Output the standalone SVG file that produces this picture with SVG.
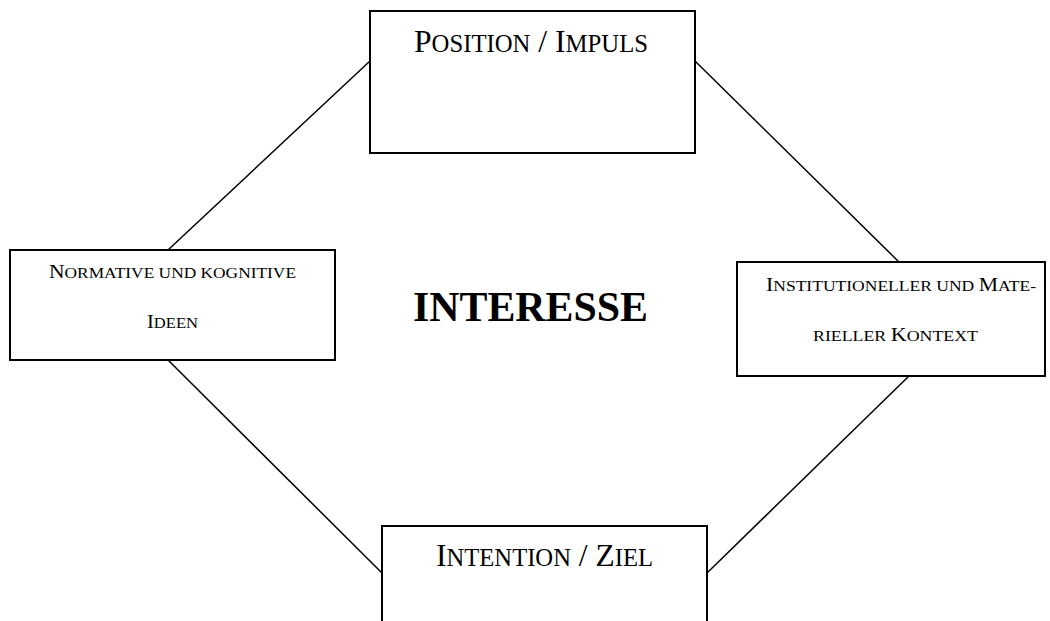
<svg xmlns="http://www.w3.org/2000/svg" width="1050" height="621" viewBox="0 0 1050 621">
<style>
.box{fill:#fff;stroke:#000;stroke-width:2}
.con{stroke:#000;stroke-width:1.5;fill:none}
.t{font-family:"Liberation Serif","Times New Roman",serif;fill:#000}
.big{font-size:32px}
.bs{font-size:25px}
.sm{font-size:18px}
.ss{font-size:14.5px}
</style>
<rect width="1050" height="621" fill="#fff"/>
<g id="connectors">
<line class="con" x1="370" y1="61" x2="168" y2="250"/>
<line class="con" x1="695" y1="61" x2="899" y2="262"/>
<line class="con" x1="168" y1="360" x2="382" y2="573"/>
<line class="con" x1="909" y1="376" x2="707" y2="573"/>
</g>
<g id="position">
<rect class="box" x="370" y="11" width="325" height="142"/>
<text class="t big" x="414" y="52" textLength="234" lengthAdjust="spacingAndGlyphs">P<tspan class="bs">OSITION</tspan> / I<tspan class="bs">MPULS</tspan></text>
</g>
<g id="ideen">
<rect class="box" x="10" y="250" width="325" height="110"/>
<text class="t sm" x="49" y="278" textLength="247" lengthAdjust="spacingAndGlyphs">N<tspan class="ss">ORMATIVE UND KOGNITIVE</tspan></text>
<text class="t sm" x="147" y="328" textLength="51" lengthAdjust="spacingAndGlyphs">I<tspan class="ss">DEEN</tspan></text>
</g>
<g id="kontext">
<rect class="box" x="737" y="262" width="308" height="114"/>
<text class="t sm" x="766" y="291" textLength="270" lengthAdjust="spacingAndGlyphs">I<tspan class="ss">NSTITUTIONELLER UND </tspan>M<tspan class="ss">ATE-</tspan></text>
<text class="t sm" x="813" y="341" textLength="165" lengthAdjust="spacingAndGlyphs"><tspan class="ss">RIELLER </tspan>K<tspan class="ss">ONTEXT</tspan></text>
</g>
<g id="ziel">
<rect class="box" x="382" y="526" width="325" height="120"/>
<text class="t big" x="436" y="566" textLength="217" lengthAdjust="spacingAndGlyphs">I<tspan class="bs">NTENTION</tspan> / Z<tspan class="bs">IEL</tspan></text>
</g>
<g id="interesse">
<text class="t" x="413" y="321" font-size="42" font-weight="bold" textLength="235" lengthAdjust="spacingAndGlyphs">INTERESSE</text>
</g>
</svg>
